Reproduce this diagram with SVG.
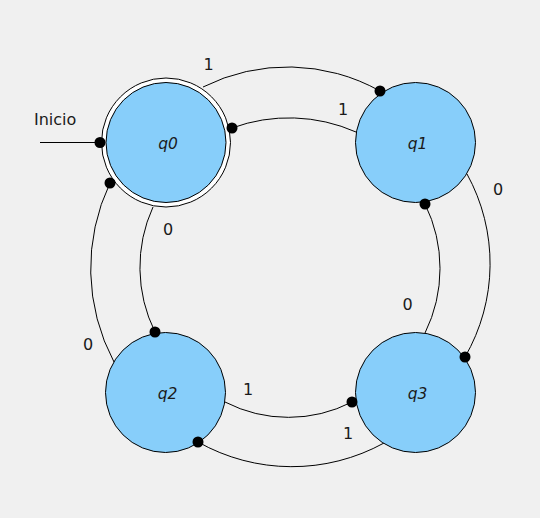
<svg xmlns="http://www.w3.org/2000/svg" width="540" height="518" viewBox="0 0 540 518">
<style>
.st{fill:#87CEFA;stroke:#000;stroke-width:1}
.ring{fill:#fff;stroke:#000;stroke-width:1}
.lbl{font-family:"DejaVu Sans",Verdana,sans-serif;font-size:15.5px;font-style:italic;text-anchor:middle;fill:#1a1a1a}
.e{fill:none;stroke:#000;stroke-width:1}
.el{font-family:"DejaVu Sans",Verdana,sans-serif;font-size:16px;text-anchor:middle;fill:#1a1a1a}
.dot{fill:#000}
</style>
<rect width="540" height="518" fill="#F0F0F0"/>
<g id="connectors">
<line class="e" x1="40" y1="142.5" x2="100" y2="142.5"/>
<text x="34" y="125" font-family="DejaVu Sans,Verdana,sans-serif" font-size="16" fill="#1a1a1a">Inicio</text>
<path class="e" d="M203,87 A189,189 0 0 1 380,91"/>
<text class="el" x="208.5" y="69.5">1</text>
<path class="e" d="M356,132 A166,166 0 0 0 232,128"/>
<text class="el" x="343" y="115">1</text>
<path class="e" d="M467,174 A186,186 0 0 1 465,357"/>
<text class="el" x="498" y="195">0</text>
<path class="e" d="M425,333 A146,146 0 0 0 425,204"/>
<text class="el" x="407.5" y="310">0</text>
<path class="e" d="M153,207 A146,146 0 0 0 155,332"/>
<text class="el" x="168" y="235">0</text>
<path class="e" d="M114,362 A199,199 0 0 1 110,183"/>
<text class="el" x="88" y="350">0</text>
<path class="e" d="M225,402 A139,139 0 0 0 352,402"/>
<text class="el" x="248" y="394.5">1</text>
<path class="e" d="M384,443 A191,191 0 0 1 198,442"/>
<text class="el" x="348" y="439">1</text>
</g>
<g id="q0">
<circle class="ring" cx="166" cy="142.5" r="64.5"/>
<circle class="st" cx="166" cy="142.5" r="60"/>
<text class="lbl" x="168" y="148.5">q0</text>
</g>
<g id="q1">
<circle class="st" cx="415.5" cy="142.5" r="60"/>
<text class="lbl" x="417.5" y="148.5">q1</text>
</g>
<g id="q2">
<circle class="st" cx="165.5" cy="392.5" r="60"/>
<text class="lbl" x="167.5" y="398.5">q2</text>
</g>
<g id="q3">
<circle class="st" cx="415.5" cy="392.5" r="60"/>
<text class="lbl" x="417.5" y="398.5">q3</text>
</g>
<g id="arrow-dots">
<circle class="dot" cx="100" cy="142.5" r="5.5"/>
<circle class="dot" cx="380" cy="91" r="5.5"/>
<circle class="dot" cx="232" cy="128" r="5.5"/>
<circle class="dot" cx="465" cy="357" r="5.5"/>
<circle class="dot" cx="425" cy="204" r="5.5"/>
<circle class="dot" cx="155" cy="332" r="5.5"/>
<circle class="dot" cx="110" cy="183" r="5.5"/>
<circle class="dot" cx="352" cy="402" r="5.5"/>
<circle class="dot" cx="198" cy="442" r="5.5"/>
</g>
</svg>
